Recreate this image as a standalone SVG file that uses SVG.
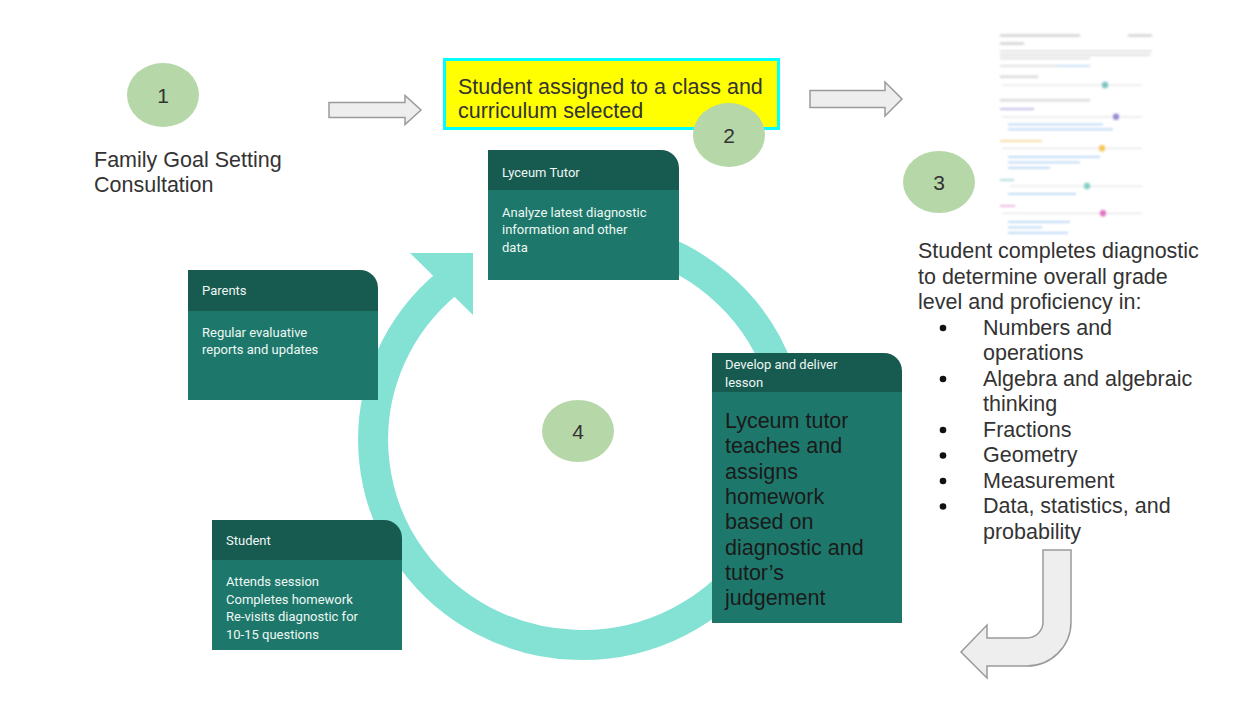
<svg xmlns="http://www.w3.org/2000/svg" width="1253" height="726" viewBox="0 0 1253 726">
<defs>
<style>
.t{font-family:"Liberation Sans",Arial,sans-serif;font-size:21.5px;fill:#333}
.num{font-family:"Liberation Sans",Arial,sans-serif;font-size:21px;fill:#333;text-anchor:middle}
.badge{fill:#b6d7a8}
.blk{fill:#eeeeee;stroke:#9a9a9a;stroke-width:1.5;stroke-linejoin:miter}
.hd{fill:#175a50}
.bd{fill:#1d786b}
.ct{font-family:Roboto,"Liberation Sans",sans-serif;font-size:13px;fill:#eef7f4}
.big{font-family:"Liberation Sans",Arial,sans-serif;font-size:21.5px;fill:#1a1a1a}
.g{fill:#cfcfcf}
.b{fill:#a9cdf2}
</style>
<filter id="blur" x="-5%" y="-5%" width="110%" height="110%"><feGaussianBlur stdDeviation="0.8"/></filter>
</defs>
<rect width="1253" height="726" fill="#ffffff"/>

<!-- document thumbnail -->
<g id="diagnostic-report" filter="url(#blur)" opacity="0.8">
<rect x="1000" y="34" width="80" height="3" class="g"/>
<rect x="1128" y="34" width="24" height="3" class="g"/>
<rect x="1000" y="42" width="24" height="3" class="g"/>
<rect x="1000" y="50.5" width="152" height="1.6" class="g"/>
<rect x="1000" y="54" width="150" height="1.6" class="g"/>
<rect x="1000" y="57.5" width="90" height="1.6" class="g"/>
<rect x="1000" y="65" width="58" height="1.6" class="g"/>
<rect x="1058" y="65" width="32" height="1.6" class="b"/>
<rect x="1000" y="75.5" width="38" height="2.4" class="g"/>
<rect x="1002" y="84.5" width="140" height="1.2" fill="#dddddd"/>
<circle cx="1105" cy="85" r="3.2" fill="#57b5ad"/>
<rect x="1000" y="99" width="90" height="2.4" class="g"/>
<rect x="1000" y="108" width="34" height="2" fill="#b9b0e0"/>
<rect x="1002" y="116.2" width="140" height="1.2" fill="#dddddd"/>
<circle cx="1116" cy="116.7" r="3.2" fill="#7d6fc8"/>
<rect x="1008" y="123.5" width="95" height="1.8" class="b"/>
<rect x="1008" y="128.5" width="105" height="1.8" class="b"/>
<rect x="1000" y="140" width="42" height="2" fill="#f3d58e"/>
<rect x="1002" y="147.8" width="140" height="1.2" fill="#dddddd"/>
<circle cx="1102" cy="148.3" r="3.2" fill="#f1b92a"/>
<rect x="1008" y="156" width="92" height="1.8" class="b"/>
<rect x="1008" y="161.5" width="72" height="1.8" class="b"/>
<rect x="1008" y="167" width="42" height="1.8" class="b"/>
<rect x="1000" y="179" width="14" height="2" fill="#9fd8d2"/>
<rect x="1010" y="185.5" width="132" height="1.2" fill="#dddddd"/>
<circle cx="1087" cy="186" r="3.2" fill="#5ec2b8"/>
<rect x="1008" y="193" width="68" height="1.8" class="b"/>
<rect x="1000" y="205" width="15" height="2" fill="#eaa7dc"/>
<rect x="1002" y="212.8" width="140" height="1.2" fill="#dddddd"/>
<circle cx="1103" cy="213.3" r="3.2" fill="#d94fb5"/>
<rect x="1008" y="221" width="62" height="1.8" class="b"/>
<rect x="1008" y="226.5" width="34" height="1.8" class="b"/>
<rect x="1008" y="232" width="60" height="1.8" class="b"/>
</g>

<!-- connectors -->
<g id="connectors">
<path class="blk" d="M329,102.5 H405 V95.5 L421,110 L405,124.5 V117.5 H329 Z"/>
<path class="blk" d="M810,90.5 H885 V82 L902,99 L885,116 V107.5 H810 Z"/>
<path class="blk" d="M1043,550 H1071 V622 A44 44 0 0 1 1027,666 H987 V678 L961,652 L987,625 V638 H1027 A16 16 0 0 0 1043,622 Z"/>
<path d="M527.9,242 A209 205 0 1 1 447.7,283" fill="none" stroke="#84e2d5" stroke-width="30"/>
<polygon points="410,253 473,253 473,315" fill="#84e2d5"/>
</g>

<g id="step1">
<ellipse class="badge" cx="163" cy="95" rx="36" ry="32"/>
<text class="num" x="163" y="102.5">1</text>
<text class="t" x="94" y="167">Family Goal Setting</text>
<text class="t" x="94" y="192">Consultation</text>
</g>

<g id="step2">
<rect x="444.5" y="59.5" width="334" height="69" fill="#ffff00" stroke="#00ffff" stroke-width="3"/>
<text class="t" x="458" y="94">Student assigned to a class and</text>
<text class="t" x="458" y="118">curriculum selected</text>
<ellipse class="badge" cx="729" cy="135" rx="36" ry="32"/>
<text class="num" x="729" y="142.5">2</text>
</g>

<g id="step3">
<ellipse class="badge" cx="939" cy="182" rx="36" ry="31"/>
<text class="num" x="939" y="189.5">3</text>
<text class="t" x="918" y="258">Student completes diagnostic</text>
<text class="t" x="918" y="283.5">to determine overall grade</text>
<text class="t" x="918" y="309">level and proficiency in:</text>
<g fill="#111">
<circle cx="943" cy="328" r="3.3"/>
<circle cx="943" cy="379" r="3.3"/>
<circle cx="943" cy="430" r="3.3"/>
<circle cx="943" cy="455.5" r="3.3"/>
<circle cx="943" cy="481" r="3.3"/>
<circle cx="943" cy="506.5" r="3.3"/>
</g>
<text class="t" x="983" y="334.5">Numbers and</text>
<text class="t" x="983" y="360">operations</text>
<text class="t" x="983" y="385.5">Algebra and algebraic</text>
<text class="t" x="983" y="411">thinking</text>
<text class="t" x="983" y="436.5">Fractions</text>
<text class="t" x="983" y="462">Geometry</text>
<text class="t" x="983" y="487.5">Measurement</text>
<text class="t" x="983" y="513">Data, statistics, and</text>
<text class="t" x="983" y="538.5">probability</text>
</g>

<g id="step4">
<ellipse class="badge" cx="578" cy="431" rx="36" ry="31"/>
<text class="num" x="578" y="438.5">4</text>
</g>

<g id="lyceum-tutor">
<rect class="bd" x="488" y="190" width="191" height="90"/>
<path class="hd" d="M488,150 H661 A18 18 0 0 1 679,168 V190 H488 Z"/>
<text class="ct" x="502" y="176.5">Lyceum Tutor</text>
<text class="ct" x="502" y="216.5">Analyze latest diagnostic</text>
<text class="ct" x="502" y="234">information and other</text>
<text class="ct" x="502" y="251.5">data</text>
</g>

<g id="parents">
<rect class="bd" x="188" y="311" width="190" height="89"/>
<path class="hd" d="M188,270 H360 A18 18 0 0 1 378,288 V311 H188 Z"/>
<text class="ct" x="202" y="295">Parents</text>
<text class="ct" x="202" y="337">Regular evaluative</text>
<text class="ct" x="202" y="354">reports and updates</text>
</g>

<g id="develop-lesson">
<rect class="bd" x="712" y="392" width="190" height="231"/>
<path class="hd" d="M712,353 H884 A18 18 0 0 1 902,371 V392 H712 Z"/>
<text class="ct" x="725" y="369">Develop and deliver</text>
<text class="ct" x="725" y="386.5">lesson</text>
<text class="big" x="725" y="428">Lyceum tutor</text>
<text class="big" x="725" y="453.3">teaches and</text>
<text class="big" x="725" y="478.6">assigns</text>
<text class="big" x="725" y="503.9">homework</text>
<text class="big" x="725" y="529.2">based on</text>
<text class="big" x="725" y="554.5">diagnostic and</text>
<text class="big" x="725" y="579.8">tutor’s</text>
<text class="big" x="725" y="605.1">judgement</text>
</g>

<g id="student">
<rect class="bd" x="212" y="560" width="190" height="90"/>
<path class="hd" d="M212,520 H384 A18 18 0 0 1 402,538 V560 H212 Z"/>
<text class="ct" x="226" y="545">Student</text>
<text class="ct" x="226" y="586">Attends session</text>
<text class="ct" x="226" y="603.5">Completes homework</text>
<text class="ct" x="226" y="621">Re-visits diagnostic for</text>
<text class="ct" x="226" y="638.5">10-15 questions</text>
</g>
</svg>
